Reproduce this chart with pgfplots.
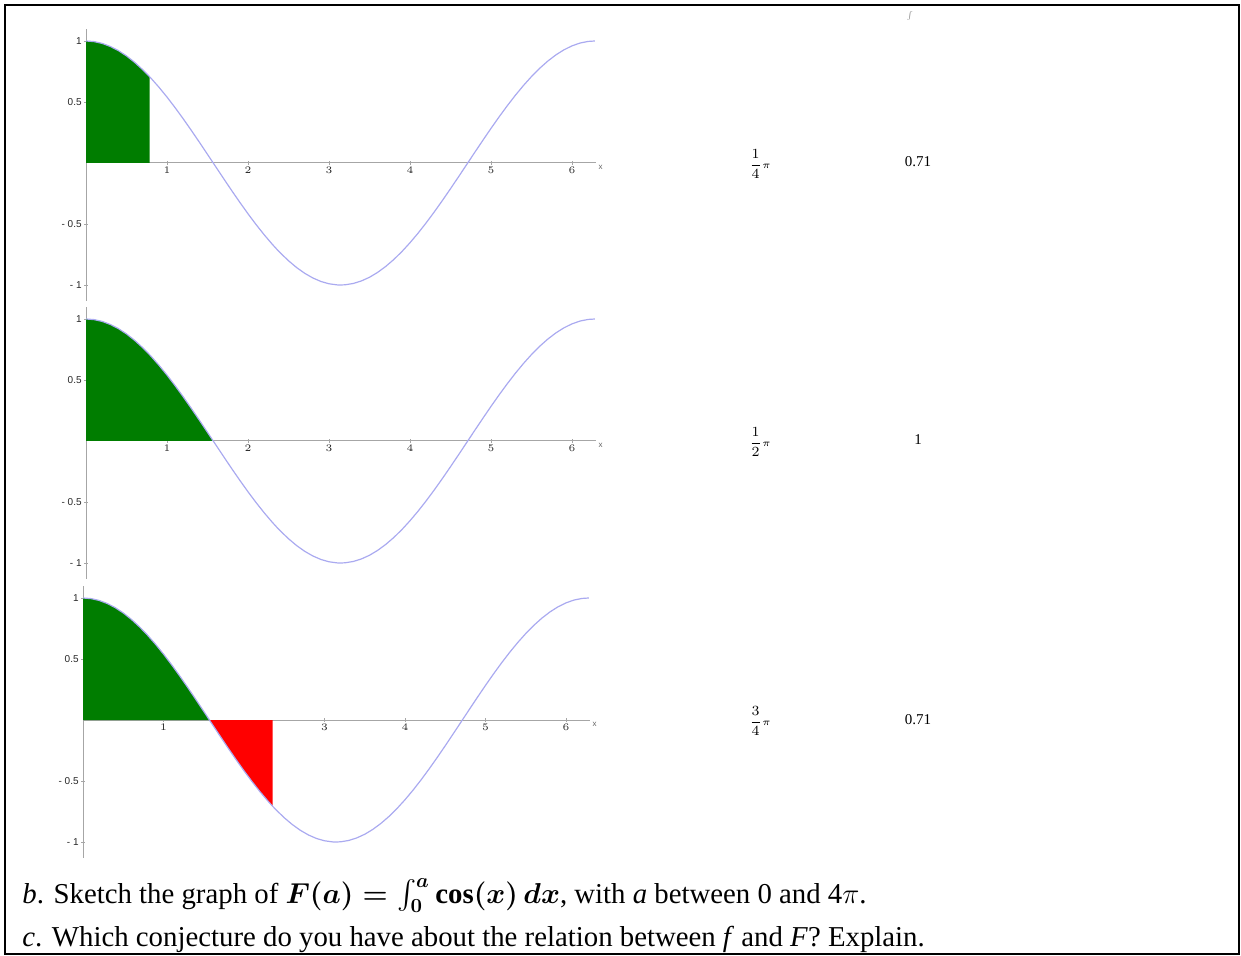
\documentclass[border=0pt]{standalone}
\usepackage{amsmath}
\usepackage{fontspec}
\setmainfont{Liberation Serif}
\setsansfont{Liberation Sans}
\usepackage{pgfplots}
\pgfplotsset{compat=1.18}
\usepackage{pgfplotstable}
\usepgfplotslibrary{fillbetween}

\definecolor{curve}{RGB}{170,170,240}
\definecolor{dkgreen}{RGB}{0,125,0}
\definecolor{areared}{RGB}{255,0,0}

% f(x) = cos(x) on [0, 2pi]
\pgfplotstableread{
x y
0 1
0.1 0.9950
0.2 0.9801
0.3 0.9553
0.4 0.9211
0.5 0.8776
0.6 0.8253
0.7 0.7648
0.7854 0.7071
0.8 0.6967
0.9 0.6216
1.0 0.5403
1.1 0.4536
1.2 0.3624
1.3 0.2675
1.4 0.1700
1.5 0.0707
1.5708 0
1.6 -0.0292
1.7 -0.1288
1.8 -0.2272
1.9 -0.3233
2.0 -0.4161
2.1 -0.5048
2.2 -0.5885
2.3 -0.6663
2.3562 -0.7071
2.4 -0.7374
2.5 -0.8011
2.6 -0.8569
2.7 -0.9041
2.8 -0.9422
2.9 -0.9710
3.0 -0.9900
3.1 -0.9991
3.1416 -1
3.2 -0.9983
3.3 -0.9875
3.4 -0.9668
3.5 -0.9365
3.6 -0.8968
3.7 -0.8481
3.8 -0.7910
3.9 -0.7259
4.0 -0.6536
4.1 -0.5748
4.2 -0.4903
4.3 -0.4008
4.4 -0.3073
4.5 -0.2108
4.6 -0.1122
4.7 -0.0124
4.8 0.0875
4.9 0.1865
5.0 0.2837
5.1 0.3780
5.2 0.4685
5.3 0.5544
5.4 0.6347
5.5 0.7087
5.6 0.7756
5.7 0.8347
5.8 0.8855
5.9 0.9275
6.0 0.9602
6.1 0.9833
6.2 0.9965
6.2832 1
}\costab

\pgfplotsset{
  cosplot/.style={
    anchor=origin, x=40.5pt, y=61pt,
    xmin=0, xmax=6.3, ymin=-1.13, ymax=1.1,
    axis lines=middle, axis line style={gray!70, line width=0.5pt, -},
    xtick={1,2,3,4,5,6}, ytick={-1,-0.5,0.5,1},
    yticklabels={- 1,- 0.5,0.5,1},
    tick style={gray!70, line width=0.4pt}, major tick length=2pt,
    tick label style={font=\sffamily\fontsize{5}{6}\selectfont, text=black!85, inner sep=1pt},
    clip=false,
  },
}

\begin{document}
\begin{tikzpicture}
\path (0,0) rectangle (620.5pt,-478pt);
\draw[line width=1pt] (2.5pt,-2.5pt) rectangle (619.5pt,-477pt);

% a = pi/4
\begin{axis}[cosplot, at={(43pt,-81.5pt)}]
  \addplot[curve, line width=0.6pt] table {\costab};
  \addplot[name path=f1, draw=none] table {\costab};
  \addplot[name path=a1, draw=none] coordinates {(0,0) (6.3,0)};
  \addplot[fill=dkgreen, draw=none] fill between[of=f1 and a1, soft clip={domain=0:0.7854}];
  \node[font=\sffamily\fontsize{4}{5}\selectfont, text=black!60, anchor=north west, inner sep=1pt] at (axis cs:6.3,0) {x};
\end{axis}

% a = pi/2
\begin{axis}[cosplot, at={(43pt,-220.5pt)}]
  \addplot[curve, line width=0.6pt] table {\costab};
  \addplot[name path=f2, draw=none] table {\costab};
  \addplot[name path=a2, draw=none] coordinates {(0,0) (6.3,0)};
  \addplot[fill=dkgreen, draw=none] fill between[of=f2 and a2, soft clip={domain=0:1.5708}];
  \node[font=\sffamily\fontsize{4}{5}\selectfont, text=black!60, anchor=north west, inner sep=1pt] at (axis cs:6.3,0) {x};
\end{axis}

% a = 3pi/4
\begin{axis}[cosplot, at={(41.5pt,-360pt)}, x=40.25pt, xtick={1,3,4,5,6}]
  \addplot[curve, line width=0.6pt] table {\costab};
  \addplot[name path=f3, draw=none] table {\costab};
  \addplot[name path=a3, draw=none] coordinates {(0,0) (6.3,0)};
  \addplot[fill=dkgreen, draw=none] fill between[of=f3 and a3, soft clip={domain=0:1.5708}];
  \addplot[fill=areared, draw=none] fill between[of=f3 and a3, soft clip={domain=1.5708:2.3562}];
  \node[font=\sffamily\fontsize{4}{5}\selectfont, text=black!60, anchor=north west, inner sep=1pt] at (axis cs:6.3,0) {x};
\end{axis}

% table values
\begin{scope}[every node/.style={font=\fontsize{7.5}{9}\selectfont, inner sep=0pt}]
  \node[font=\fontsize{4}{4}\selectfont, text=black!50] at (455pt,-8pt) {$\int$};
  \node at (380pt,-82pt) {$\displaystyle\frac{1}{4}{\scriptstyle\pi}$};
  \node at (459pt,-81pt) {0.71};
  \node at (380pt,-221pt) {$\displaystyle\frac{1}{2}{\scriptstyle\pi}$};
  \node at (459pt,-220pt) {1};
  \node at (380pt,-360.5pt) {$\displaystyle\frac{3}{4}{\scriptstyle\pi}$};
  \node at (459pt,-360pt) {0.71};
\end{scope}

% questions
\node[anchor=base west, inner sep=0pt, font=\fontsize{14.4}{16}\selectfont] at (11pt,-451.5pt)
  {\textit{b}. Sketch the graph of {\boldmath$F(a)=\int_0^a \cos(x)\,dx$}, with \textit{a} between 0 and 4$\pi$.};
\node[anchor=base west, inner sep=0pt, font=\fontsize{14.4}{16}\selectfont] at (11pt,-473pt)
  {\textit{c}. Which conjecture do you have about the relation between \textit{f} and \textit{F}? Explain.};
\end{tikzpicture}
\end{document}
